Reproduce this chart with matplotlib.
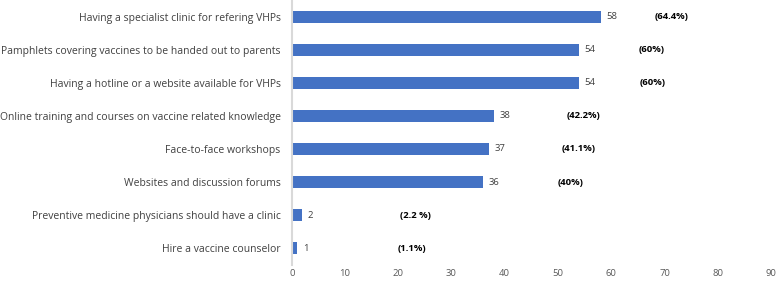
import matplotlib.pyplot as plt
import numpy as np

categorias = ["Having a specialist clinic for refering VHPs",
              "Pamphlets covering vaccines to be handed out to parents",
              "Having a hotline or a website available for VHPs",
              "Online training and courses on vaccine related knowledge",
              "Face-to-face workshops",
              "Websites and discussion forums",
              "Preventive medicine physicians should have a clinic",
              "Hire a vaccine counselor"]
valores = [58, 54, 54, 38, 37, 36, 2, 1]
porcentajes = ["(64.4%)", "(60%)", "(60%)", "(42.2%)", "(41.1%)", "(40%)", "(2.2 %)", "(1.1%)"]
# x donde estan puestas las etiquetas de porcentaje (a mano en el original)
pos_pct = [71.4, 67.5, 67.7, 54.7, 53.9, 52.4, 23.3, 22.6]

plt.rcParams['font.family'] = ['Open Sans', 'DejaVu Sans']

fig = plt.figure(figsize=(7.78, 2.83), dpi=100)
ax = fig.add_axes([0.375, 0.064, 0.616, 0.936])

y = np.arange(len(categorias))
barras = ax.barh(y, valores, height=0.36, color='#4472C4')
ax.bar_label(barras, padding=4, fontsize=6.8, color='#404040')

for i in range(len(categorias)):
  ax.text(pos_pct[i], y[i], porcentajes[i], ha='center', va='center',
          fontsize=6.8, fontweight='bold', color='black')

ax.set_yticks(y)
ax.set_yticklabels(categorias, fontsize=7.45, color='#404040')
ax.set_ylim(7.5, -0.5)
ax.set_xlim(0, 90)
ax.set_xticks(np.arange(0, 91, 10))
ax.tick_params(axis='x', labelsize=6.8, colors='#595959', length=0, pad=3)
ax.tick_params(axis='y', length=0, pad=8)

for s in ['top', 'right', 'bottom']:
  ax.spines[s].set_visible(False)
ax.spines['left'].set_color('#d9d9d9')
ax.spines['left'].set_linewidth(1.5)

fig.savefig('out.png', dpi=100)
